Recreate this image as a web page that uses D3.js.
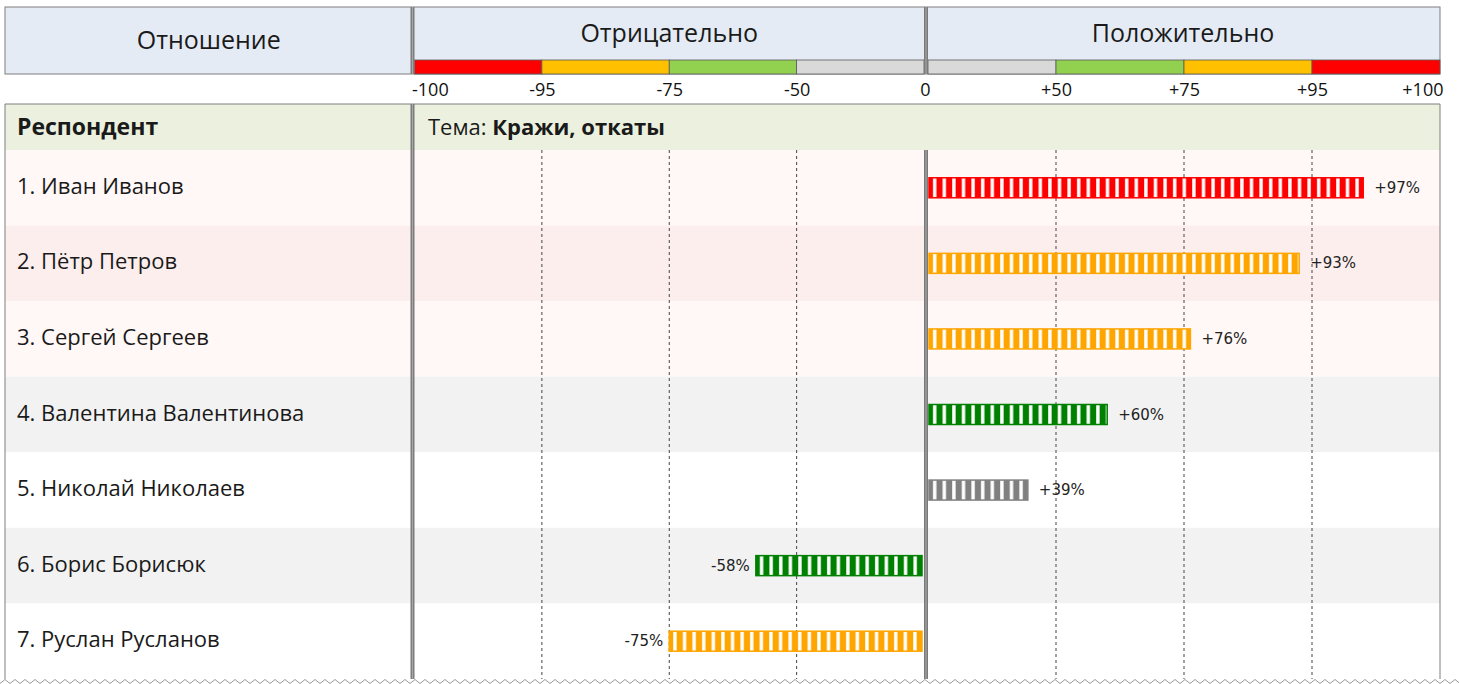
<!DOCTYPE html>
<html>
<head>
<meta charset="utf-8">
<script src="https://cdn.jsdelivr.net/npm/d3@7"></script>
<style>
  body { margin: 0; background: #fff; }
  .cap { font-family: "Open Sans", sans-serif; fill: #1a1a1a; }
  .tick text { font-family: "Open Sans", sans-serif; font-size: 18px; fill: #111; }
  .val { font-family: "DejaVu Sans", sans-serif; font-size: 15px; fill: #222; }
</style>
</head>
<body>
<div id="chart"></div>
<script>
// Respondent attitude chart - piecewise scale, striped bars

const respondents = [
    "1. Иван Иванов",
    "2. Пётр Петров",
    "3. Сергей Сергеев",
    "4. Валентина Валентинова",
    "5. Николай Николаев",
    "6. Борис Борисюк",
    "7. Руслан Русланов"
];
const scores = [97, 93, 76, 60, 39, -58, -75];

const negTicks = [-100, -95, -75, -50, 0];
const posTicks = [0, 50, 75, 95, 100];
const zoneNames = ["gray", "green", "orange", "red"]; // 0-50, 50-75, 75-95, 95-100

const width = 1459, height = 684;

// zone colours (legend band) and bar colours
const bandColor = { red: "#ff0000", orange: "#ffc000", green: "#92d050", gray: "#d9d9d9" };
const barColor = { red: "#ff0000", orange: "#ffa500", green: "#008000", gray: "#808080" };
const rowFills = ["#fff8f7", "#fdeeee", "#fff8f7", "#f2f2f2", "#ffffff", "#f2f2f2", "#ffffff"];

const leftX = 5, rightX = 1440, divA = 412.5, divB = 926;
const headTop = 7, headBottom = 74, tableTop = 104, subBottom = 150, tableBottom = 679;

const seg = (divB - 2 - (divA + 2)) / 4;
const xNeg = d3.scaleLinear()
    .domain(negTicks)
    .range(negTicks.map((d, i) => divA + 2 + i * seg));
const segP = (rightX - (divB + 2)) / 4;
const xPos = d3.scaleLinear()
    .domain(posTicks)
    .range(posTicks.map((d, i) => divB + 2 + i * segP));

const x = v => v < 0 ? xNeg(v) : xPos(v);

function zone(v) {
    const a = Math.abs(v);
    if (a >= 95) return "red";
    if (a >= 75) return "orange";
    if (a >= 50) return "green";
    return "gray";
}

const y = d3.scaleBand()
    .domain(respondents)
    .range([subBottom, tableBottom])
    .padding(0);

const svg = d3.select("#chart").append("svg")
    .attr("width", width)
    .attr("height", height);

const defs = svg.append("defs");

// ---- Header block ----
svg.append("rect")
    .attr("x", leftX).attr("y", headTop)
    .attr("width", rightX - leftX).attr("height", headBottom - headTop)
    .attr("fill", "#e4ebf5")
    .attr("stroke", "#7f7f7f");

svg.append("text").attr("class", "cap")
    .attr("x", (leftX + divA) / 2).attr("y", 39)
    .attr("text-anchor", "middle").attr("dominant-baseline", "central")
    .style("font-size", "25px")
    .text("Отношение");

svg.append("text").attr("class", "cap")
    .attr("x", (divA + divB) / 2).attr("y", 32)
    .attr("text-anchor", "middle").attr("dominant-baseline", "central")
    .style("font-size", "25px")
    .text("Отрицательно");

svg.append("text").attr("class", "cap")
    .attr("x", (divB + rightX) / 2).attr("y", 32)
    .attr("text-anchor", "middle").attr("dominant-baseline", "central")
    .style("font-size", "25px")
    .text("Положительно");

// legend colour bands
const bandSegs = [];
for (let i = 0; i < 4; i++) {
    bandSegs.push({ x0: xNeg(negTicks[i]), x1: xNeg(negTicks[i + 1]), z: zoneNames[3 - i] });
    bandSegs.push({ x0: xPos(posTicks[i]), x1: xPos(posTicks[i + 1]), z: zoneNames[i] });
}
svg.append("g").selectAll("rect")
    .data(bandSegs)
    .join("rect")
    .attr("x", d => d.x0)
    .attr("y", 60)
    .attr("width", d => d.x1 - d.x0)
    .attr("height", headBottom - 60)
    .attr("fill", d => bandColor[d.z])
    .attr("stroke", "#5a5a5a")
    .attr("stroke-width", 0.8);

// ---- Axis labels ----
const negAxis = svg.append("g")
    .attr("transform", `translate(0,${headBottom + 7})`)
    .call(d3.axisBottom(xNeg).tickValues(negTicks).tickSize(0).tickPadding(2).tickFormat(d => String(d)))
    .call(g => g.select(".domain").remove());
negAxis.selectAll(".tick text")
    .attr("text-anchor", d => d === -100 ? "start" : "middle")
    .attr("dx", d => d === -100 ? -3 : (d === 0 ? 1 : 0));

const posAxis = svg.append("g")
    .attr("transform", `translate(0,${headBottom + 7})`)
    .call(d3.axisBottom(xPos).tickValues(posTicks.slice(1)).tickSize(0).tickPadding(2).tickFormat(d => "+" + d))
    .call(g => g.select(".domain").remove());
posAxis.selectAll(".tick text")
    .attr("text-anchor", d => d === 100 ? "end" : "middle")
    .attr("dx", d => d === 100 ? 3 : 0);
svg.selectAll(".tick text").attr("fill", "#111");

// ---- Table ----
svg.append("rect")
    .attr("x", leftX).attr("y", tableTop)
    .attr("width", rightX - leftX).attr("height", subBottom - tableTop)
    .attr("fill", "#ebf1de");

svg.append("g").selectAll("rect")
    .data(respondents)
    .join("rect")
    .attr("x", leftX)
    .attr("y", d => y(d))
    .attr("width", rightX - leftX)
    .attr("height", y.bandwidth())
    .attr("fill", (d, i) => rowFills[i]);

svg.append("text").attr("class", "cap")
    .attr("x", 17).attr("y", 126)
    .attr("dominant-baseline", "central")
    .style("font-size", "23px").style("font-weight", "bold")
    .text("Респондент");

const topic = svg.append("text").attr("class", "cap")
    .attr("x", 428).attr("y", 126)
    .attr("dominant-baseline", "central")
    .style("font-size", "22px");
topic.append("tspan").text("Тема: ");
topic.append("tspan").style("font-weight", "bold").text("Кражи, откаты");

svg.append("g").selectAll("text")
    .data(respondents)
    .join("text")
    .attr("class", "cap")
    .attr("x", 17)
    .attr("y", d => y(d) + y.bandwidth() / 2 - 3)
    .attr("dominant-baseline", "central")
    .style("font-size", "22px")
    .text(d => d);

// dashed grid
const grid = negTicks.slice(1, 4).map(v => xNeg(v)).concat(posTicks.slice(1, 4).map(v => xPos(v)));
svg.append("g").selectAll("line")
    .data(grid)
    .join("line")
    .attr("x1", d => d).attr("x2", d => d)
    .attr("y1", subBottom).attr("y2", tableBottom)
    .attr("stroke", "#444")
    .attr("stroke-width", 1)
    .attr("stroke-dasharray", "3,3");

// borders
svg.append("path")
    .attr("d", `M${leftX},${tableBottom}V${tableTop}H${rightX}V${tableBottom}`)
    .attr("fill", "none")
    .attr("stroke", "#7f7f7f");

// thick dividers
function divider(xp, y0, y1) {
    svg.append("line").attr("x1", xp).attr("x2", xp).attr("y1", y0).attr("y2", y1)
        .attr("stroke", "#7a7a7a").attr("stroke-width", 4);
    svg.append("line").attr("x1", xp).attr("x2", xp).attr("y1", y0).attr("y2", y1)
        .attr("stroke", "#a6a6a6").attr("stroke-width", 1.2);
}
divider(divA, headTop, headBottom);
divider(divB, headTop, headBottom);
divider(divA, tableTop, tableBottom);
divider(divB, subBottom, tableBottom);

// ---- Striped bars ----
const barH = 20;
const bars = respondents.map((name, i) => {
    const v = scores[i];
    const x0 = v < 0 ? x(v) : xPos(0) + 1;
    const x1 = v < 0 ? xNeg(0) - 2 : x(v);
    return { name, v, x0, x1, z: zone(v), i };
});

bars.forEach(b => {
    const p = defs.append("pattern")
        .attr("id", "stripe" + b.i)
        .attr("patternUnits", "userSpaceOnUse")
        .attr("x", b.x0).attr("y", 0)
        .attr("width", 9.6).attr("height", height);
    p.append("rect").attr("width", 9.6).attr("height", height).attr("fill", barColor[b.z]);
    p.append("rect").attr("x", 4).attr("width", 3.4).attr("height", height).attr("fill", "#fff");
});

svg.append("g").selectAll("rect")
    .data(bars)
    .join("rect")
    .attr("x", d => d.x0)
    .attr("y", d => y(d.name) + y.bandwidth() / 2 - barH / 2)
    .attr("width", d => d.x1 - d.x0)
    .attr("height", barH)
    .attr("fill", d => `url(#stripe${d.i})`)
    .attr("stroke", d => barColor[d.z])
    .attr("stroke-width", 1.5);

svg.append("g").selectAll("text")
    .data(bars)
    .join("text")
    .attr("class", "val")
    .attr("x", d => d.v < 0 ? d.x0 - 6 : d.x1 + 11)
    .attr("y", d => y(d.name) + y.bandwidth() / 2)
    .attr("text-anchor", d => d.v < 0 ? "end" : "start")
    .attr("dominant-baseline", "central")
    .text(d => (d.v > 0 ? "+" : "") + d.v + "%");

// torn bottom edge
const zz = d3.range(0, width + 10, 5).map((xx, k) => [xx, k % 2 ? tableBottom + 0.5 : height - 0.5]);
svg.append("rect")
    .attr("x", 0).attr("y", tableBottom + 0.5)
    .attr("width", width).attr("height", height - tableBottom)
    .attr("fill", "#fff");
svg.append("path")
    .attr("d", d3.line()(zz))
    .attr("fill", "none")
    .attr("stroke", "#999")
    .attr("stroke-width", 1);
</script>
</body>
</html>
